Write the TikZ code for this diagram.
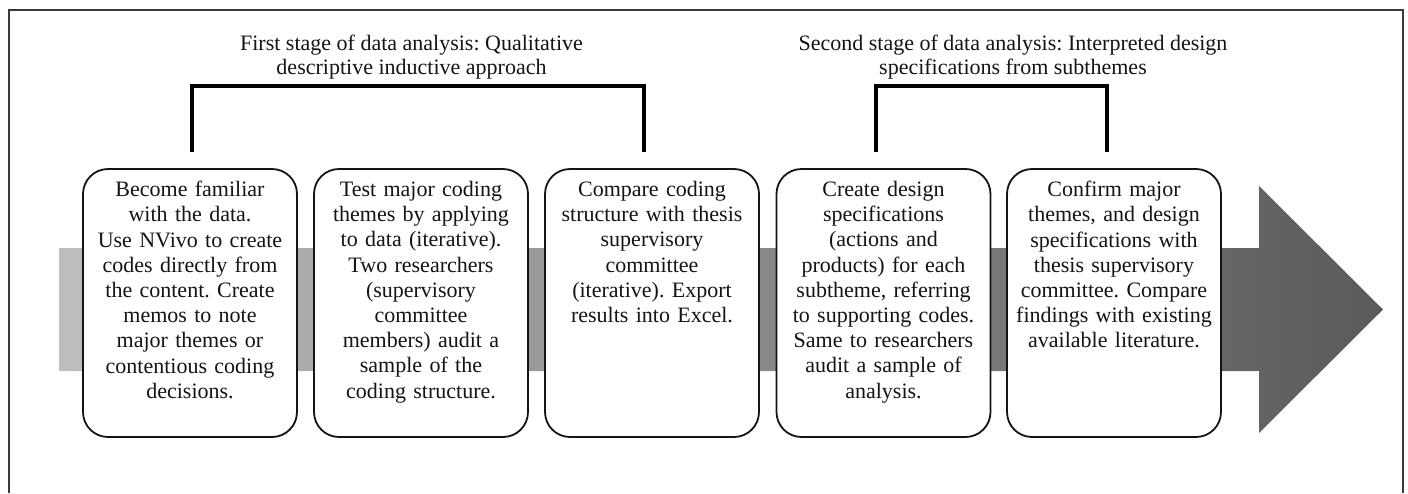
\documentclass[tikz,border=0pt]{standalone}
\usepackage{fontspec}
\setmainfont{Liberation Serif}
\frenchspacing
\definecolor{bandL}{HTML}{BEBEBE}
\definecolor{bandR}{HTML}{5A5A5A}
\definecolor{ink}{HTML}{141414}
\definecolor{framec}{HTML}{3A3A3A}
\tikzset{
  stepbox/.style={draw=ink, line width=1.8pt, fill=white, rounded corners=25pt,
    minimum width=214pt, minimum height=268pt, inner sep=0pt},
  txt/.style={text=ink, align=center, text width=212pt, inner sep=0pt,
    font=\fontsize{22}{25.2}\selectfont},
  ttl/.style={text=ink, align=center, inner sep=0pt,
    font=\fontsize{22}{23.5}\selectfont},
  bracket/.style={draw=black, line width=3.3pt, line join=miter}
}
\begin{document}
\begin{tikzpicture}[x=1pt,y=-1pt]
\useasboundingbox (0,0) rectangle (1408,493);
% outer frame (open at bottom)
\draw[framec, line width=1.6pt] (9,493) -- (9,10) -- (1403,10) -- (1403,493);
% shaded band arrow
\shade[left color=bandL, right color=bandR]
  (59,248) -- (1259,248) -- (1259,186) -- (1383,309.5) -- (1259,433) -- (1259,371) -- (59,371) -- cycle;
% boxes
\node[stepbox] (s1) at (190,303) {};
\node[stepbox] (s2) at (421,303) {};
\node[stepbox] (s3) at (652,303) {};
\node[stepbox] (s4) at (883.5,303) {};
\node[stepbox] (s5) at (1114,303) {};
% box texts
\node[txt, anchor=north] (t1) at ([yshift=-13pt]s1.north) {Become familiar\\with the data.\\Use NVivo to create\\codes directly from\\the content. Create\\memos to note\\major themes or\\contentious coding\\decisions.};
\node[txt, anchor=north] (t2) at ([yshift=-13pt]s2.north) {Test major coding\\themes by applying\\to data (iterative).\\Two researchers\\(supervisory\\committee\\members) audit a\\sample of the\\coding structure.};
\node[txt, anchor=north] (t3) at ([yshift=-13pt]s3.north) {Compare coding\\structure with thesis\\supervisory\\committee\\(iterative). Export\\results into Excel.};
\node[txt, anchor=north] (t4) at ([yshift=-13pt]s4.north) {Create design\\specifications\\(actions and\\products) for each\\subtheme, referring\\to supporting codes.\\Same to researchers\\audit a sample of\\analysis.};
\node[txt, anchor=north] (t5) at ([yshift=-13pt]s5.north) {Confirm major\\themes, and design\\specifications with\\thesis supervisory\\committee. Compare\\findings with existing\\available literature.};
% titles
\node[ttl, anchor=north] (h1) at (411.5,35) {First stage of data analysis: Qualitative\\descriptive inductive approach};
\node[ttl, anchor=north] (h2) at (1013,35) {Second stage of data analysis: Interpreted design\\specifications from subthemes};
% brackets
\coordinate (b1l) at (192,152);
\coordinate (b1r) at (644,152);
\coordinate (b2l) at (876,152);
\coordinate (b2r) at (1107,152);
\draw[bracket] (b1l) -- (b1l |- 0,86) -- (b1r |- 0,86) -- (b1r);
\draw[bracket] (b2l) -- (b2l |- 0,86) -- (b2r |- 0,86) -- (b2r);
\end{tikzpicture}
\end{document}
